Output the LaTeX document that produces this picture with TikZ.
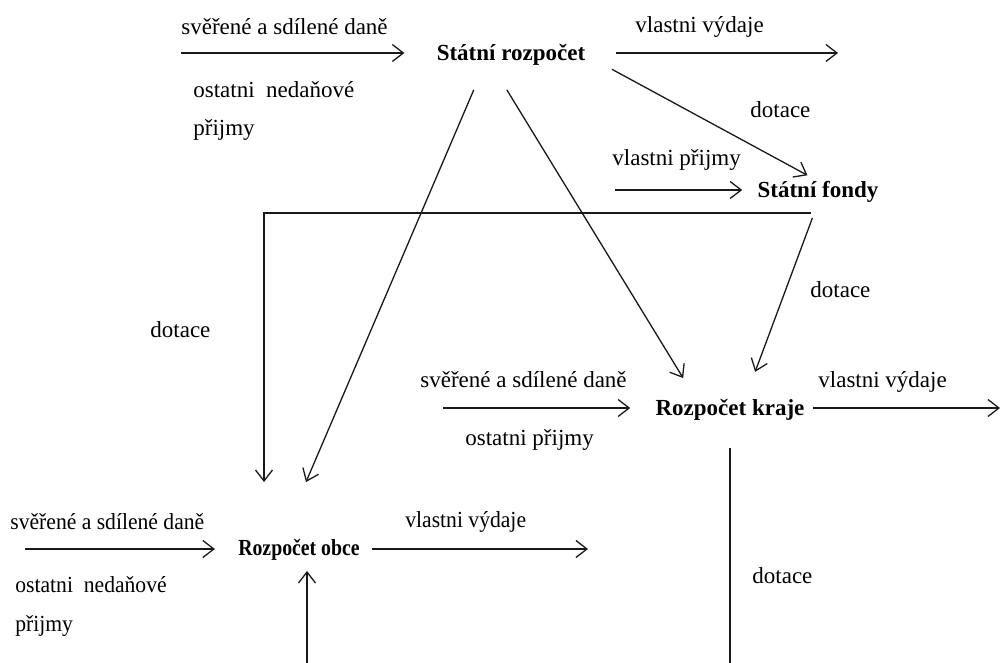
\documentclass[tikz,border=0pt]{standalone}
\usepackage{fontspec}
\setmainfont{Liberation Serif}
\usetikzlibrary{arrows.meta}

\begin{document}
\begin{tikzpicture}[x=0.5pt, y=-0.5pt,
  every node/.style={font=\fontsize{11.5}{14}\selectfont, inner sep=0pt},
  budget/.style={font=\fontsize{11.5}{14}\selectfont\bfseries},
  lbl/.style={anchor=west},
  flow/.style={line width=0.65pt, black!90, -{Straight Barb[length=5.5pt,width=8.5pt]}},
  plain/.style={line width=0.65pt, black!90}]
\useasboundingbox (0,0) rectangle (1002,663);

% budgets
\node[budget] (sr) at (511,55) {Státní rozpočet};
\node[budget] (sf) at (818,192) {Státní fondy};
\node[budget] (rk) at (730,410) {Rozpočet kraje};
\node[budget] (ro) at (299,550) {\scalebox{0.86}[1]{Rozpočet obce}};

% free ends
\coordinate (sr-in) at (181,53);
\coordinate (sr-out) at (838,53);
\coordinate (sf-in) at (615,190);
\coordinate (bend) at (264,213);
\coordinate (rk-in) at (443,408);
\coordinate (rk-out) at (1000,408);
\coordinate (rk-down) at (730,663);
\coordinate (ro-in) at (25,549);
\coordinate (ro-out) at (588,549);
\coordinate (ro-up) at (307,663);

% labels
\node[lbl] (t1) at (181,27) {svěřené a sdílené daně};
\node[lbl] (t2) at (193,90) {ostatni~ nedaňové};
\node[lbl] (t3) at (193,130) {přijmy};
\node[lbl] (t4) at (635,27) {vlastni výdaje};
\node[lbl] (t5) at (750,110) {dotace};
\node[lbl] (t6) at (612,160) {vlastni přijmy};
\node[lbl] (t7) at (150,330) {dotace};
\node[lbl] (t8) at (810,290) {dotace};
\node[lbl] (t9) at (420,380) {svěřené a sdílené daně};
\node[lbl] (t10) at (465,440) {ostatni přijmy};
\node[lbl] (t11) at (818,382) {vlastni výdaje};
\node[lbl] (t12) at (752,576) {dotace};
\node[lbl] (t13) at (10,522) {\scalebox{0.94}[1]{svěřené a sdílené daně}};
\node[lbl] (t14) at (405,522) {\scalebox{0.94}[1]{vlastni výdaje}};
\node[lbl] (t15) at (15,585) {\scalebox{0.94}[1]{ostatni~ nedaňové}};
\node[lbl] (t16) at (15,626) {\scalebox{0.94}[1]{přijmy}};

% connectors
\draw[flow, shorten >=16pt] (sr-in) -- (sr-in -| sr.west);
\draw[flow, shorten <=15pt] (sr.east |- sr-out) -- (sr-out);
\draw[flow, shorten <=15pt, shorten >=6pt] (sr.east) -- (sf.north);
\draw[flow, shorten >=7.5pt] (sf-in) -- (sf-in -| sf.west);
\draw[flow, shorten >=28.5pt] ([xshift=-3.5pt]bend -| sf.south) -- (bend) -- (bend |- ro.north);
\draw[flow, shorten <=8pt, shorten >=14.5pt] (sf.south) -- ([xshift=7.5pt]rk.north);
\draw[flow, shorten <=13pt, shorten >=31pt] ([xshift=-13.5pt]sr.south) -- ([xshift=-8.7pt]ro.north);
\draw[flow, shorten <=14pt, shorten >=12.3pt] ([xshift=-9.4pt]sr.south) -- ([xshift=-17pt]rk.north);
\draw[flow, shorten >=12.5pt] (rk-in) -- (rk-in -| rk.west);
\draw[flow, shorten <=4pt] (rk.east |- rk-out) -- (rk-out);
\draw[plain, shorten <=13.5pt] (rk.south) -- (rk.south |- rk-down);
\draw[flow, shorten >=5pt] (ro-up) -- (ro-up |- ro.south);
\draw[flow, shorten >=11.5pt] (ro-in) -- (ro-in -| ro.west);
\draw[flow, shorten <=6pt] (ro.east |- ro-out) -- (ro-out);
\end{tikzpicture}
\end{document}
